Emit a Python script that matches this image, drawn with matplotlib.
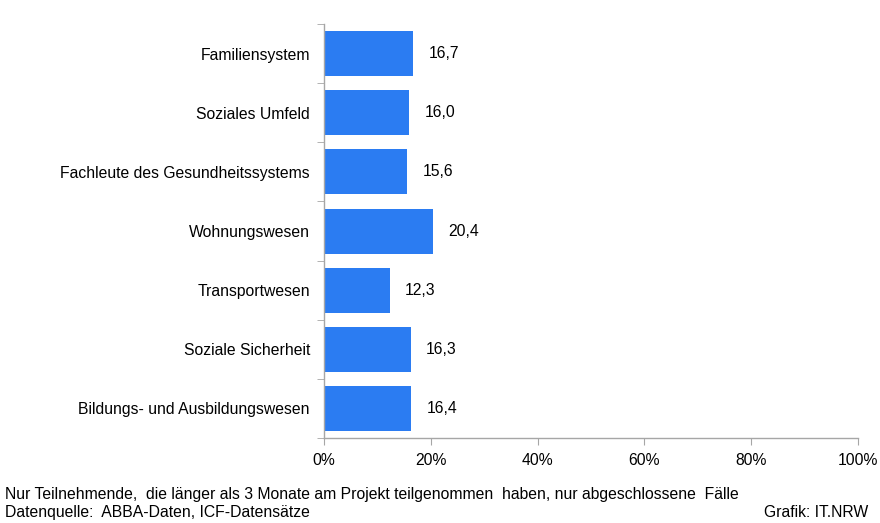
import matplotlib.pyplot as plt
import numpy as np

plt.rcParams['font.family'] = ['Liberation Sans', 'DejaVu Sans']

categories = ['Familiensystem', 'Soziales Umfeld', 'Fachleute des Gesundheitssystems',
              'Wohnungswesen', 'Transportwesen', 'Soziale Sicherheit',
              'Bildungs- und Ausbildungswesen']
values = [16.7, 16.0, 15.6, 20.4, 12.3, 16.3, 16.4]
xticks = [0, 20, 40, 60, 80, 100]

bar_color = '#2B7CF2'
axis_color = '#A6A6A6'
fs = 11.3

fig = plt.figure(figsize=(8.8, 5.23), dpi=100)
ax = fig.add_axes([0.368, 0.1625, 0.607, 0.7915])

y = np.arange(len(categories))
ax.barh(y, values, height=0.76, color=bar_color)
ax.set_ylim(len(categories) - 0.5, -0.5)
ax.set_xlim(0, 100)

for yi, v in zip(y, values):
    ax.annotate(('%.1f' % v).replace('.', ','), (v, yi), xytext=(11, 0),
                textcoords='offset points', va='center', ha='left', fontsize=fs)

ax.set_yticks(y)
ax.set_yticklabels(categories, fontsize=fs)
ax.set_yticks(np.arange(len(categories) + 1) - 0.5, minor=True)
ax.tick_params(axis='y', which='major', length=0, pad=10)
ax.tick_params(axis='y', which='minor', length=5, color=axis_color, direction='out')

ax.set_xticks(xticks)
ax.set_xticklabels(['%d%%' % t for t in xticks], fontsize=fs)
ax.tick_params(axis='x', length=5, color=axis_color, direction='out', pad=6)

for s in ['top', 'right']:
    ax.spines[s].set_visible(False)
for s in ['left', 'bottom']:
    ax.spines[s].set_color(axis_color)
    ax.spines[s].set_linewidth(1.0)

fig.text(0.006, 0.040, 'Nur Teilnehmende,  die länger als 3 Monate am Projekt teilgenommen  haben, nur abgeschlossene  Fälle',
         fontsize=fs, va='bottom', ha='left')
fig.text(0.006, 0.006, 'Datenquelle:  ABBA-Daten, ICF-Datensätze', fontsize=fs, va='bottom', ha='left')
fig.text(0.987, 0.006, 'Grafik: IT.NRW', fontsize=fs, va='bottom', ha='right')

fig.savefig('out.png', dpi=100)
